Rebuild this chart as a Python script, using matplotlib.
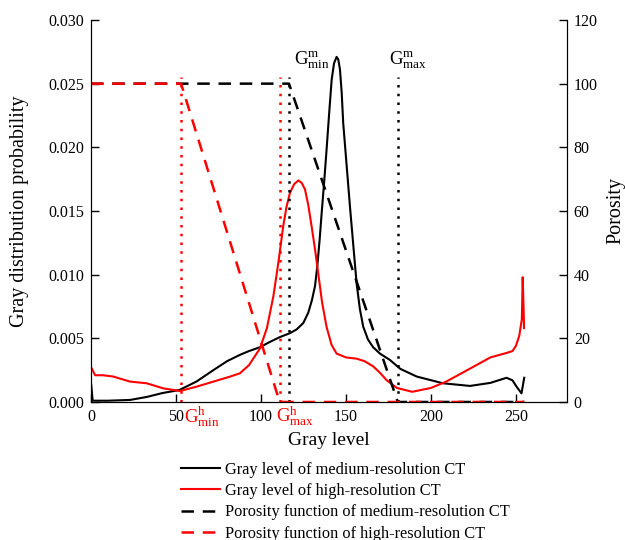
import matplotlib
matplotlib.use("Agg")
import matplotlib.pyplot as plt

plt.rcParams['font.family'] = ['Liberation Serif', 'DejaVu Serif']
plt.rcParams['mathtext.fontset'] = 'custom'
plt.rcParams['mathtext.rm'] = 'Liberation Serif'
plt.rcParams['mathtext.it'] = 'Liberation Serif:italic'

# ----------------------------------------------------------------
#  Data
# ----------------------------------------------------------------
# gray level histogram, medium-resolution CT
gray_med = [0, 1, 10, 23, 33, 42, 52, 62, 72, 80, 87.6, 93, 99.4, 105, 111.2, 117,
            121, 124.9, 127.8, 130, 131.8, 133.1, 134.5, 135.7, 137.2, 138.6, 140.2,
            141.6, 143, 144.5, 145.5, 146.5, 147.5, 148.4, 150.4, 152.4, 154.4, 156.3,
            158.2, 160.2, 163, 166, 170, 175.9, 182, 191.6, 207, 223, 235, 244.5, 248,
            250.4, 253.3, 254.9]
prob_med = [0.0015, 0.0001, 0.0001, 0.00016, 0.0004, 0.0007, 0.00094, 0.0016, 0.0025,
            0.0032, 0.0037, 0.004, 0.0043, 0.0047, 0.0051, 0.0054, 0.0057, 0.0062,
            0.007, 0.008, 0.0091, 0.0106, 0.0127, 0.0148, 0.0173, 0.0198, 0.0228, 0.0253,
            0.0266, 0.0271, 0.0269, 0.0261, 0.0243, 0.0219, 0.0186, 0.0153, 0.0122,
            0.0093, 0.0073, 0.0059, 0.0049, 0.0043, 0.0038, 0.0033, 0.0026, 0.002,
            0.00147, 0.00126, 0.0015, 0.0019, 0.0017, 0.0012, 0.00068, 0.0019]

# gray level histogram, high-resolution CT
gray_high = [0, 0.4, 2.4, 7, 13, 23, 32.7, 42.5, 52.4, 62, 72, 82, 87.6, 93, 99.4, 103.5,
             107.3, 110.3, 113.1, 115, 117, 119.5, 122, 124, 125.9, 127.8, 129.8, 131.8,
             133.7, 136, 138.6, 141.5, 144.5, 150, 156.3, 161, 166, 170, 174, 180, 189,
             200, 209, 220, 235, 244.5, 248, 250, 252, 253.5, 254, 254.5, 254.8]
prob_high = [0.0024, 0.00265, 0.0021, 0.0021, 0.002, 0.0016, 0.00147, 0.00107, 0.00086,
             0.0012, 0.0016, 0.002, 0.00225, 0.0029, 0.0042, 0.0058, 0.0083, 0.011,
             0.0138, 0.0153, 0.0164, 0.0171, 0.0174, 0.0172, 0.0167, 0.0155, 0.0138,
             0.012, 0.0101, 0.0078, 0.0059, 0.0045, 0.0038, 0.0035, 0.0034, 0.0032,
             0.0028, 0.0023, 0.0017, 0.0011, 0.0008, 0.0011, 0.0016, 0.0024, 0.0035,
             0.00385, 0.004, 0.0044, 0.0052, 0.0065, 0.0098, 0.0075, 0.0058]

# porosity functions (right axis)
por_med_x = [0, 116.5, 180.5, 255]
por_med_y = [100, 100, 0, 0]
por_high_x = [0, 53, 111, 255]
por_high_y = [100, 100, 0, 0]

# thresholds
g_min_m, g_max_m = 116.5, 180.5
g_min_h, g_max_h = 53, 111

legend_labels = ["Gray level of medium-resolution CT",
                 "Gray level of high-resolution CT",
                 "Porosity function of medium-resolution CT",
                 "Porosity function of high-resolution CT"]

# ----------------------------------------------------------------
#  Plot
# ----------------------------------------------------------------
fig = plt.figure(figsize=(6.25, 5.4), dpi=100)
ax = fig.add_axes([0.1456, 0.2556, 0.7614, 0.7074])
ax2 = ax.twinx()

ax.plot(gray_med, prob_med, color='black', lw=1.5, label=legend_labels[0])
ax.plot(gray_high, prob_high, color='red', lw=1.5, label=legend_labels[1])

ax2.plot(por_med_x, por_med_y, color='black', lw=1.8, ls=(0, (5, 3.5)), label=legend_labels[2])
ax2.plot(por_high_x, por_high_y, color='red', lw=1.8, ls=(0, (5, 3.5)), label=legend_labels[3])

# threshold markers
top = 0.0255
ax.plot([g_min_m, g_min_m], [0, top], color='black', lw=1.8, ls=(0, (1, 2.5)))
ax.plot([g_max_m, g_max_m], [0, top], color='black', lw=1.8, ls=(0, (1, 2.5)))
ax.plot([g_min_h, g_min_h], [0, top], color='red', lw=1.8, ls=(0, (1, 2.5)))
ax.plot([g_max_h, g_max_h], [0, top], color='red', lw=1.8, ls=(0, (1, 2.5)))

ax.text(g_min_m + 3, 0.0260, r'$\mathrm{G}^{\mathrm{m}}_{\mathrm{min}}$', fontsize=13.5, ha='left', va='bottom')
ax.text(g_max_m - 5, 0.0260, r'$\mathrm{G}^{\mathrm{m}}_{\mathrm{max}}$', fontsize=13.5, ha='left', va='bottom')
ax.text(g_min_h + 2, -0.0002, r'$\mathrm{G}^{\mathrm{h}}_{\mathrm{min}}$', fontsize=13.5, color='red', ha='left', va='top')
ax.text(g_max_h - 2, -0.0002, r'$\mathrm{G}^{\mathrm{h}}_{\mathrm{max}}$', fontsize=13.5, color='red', ha='left', va='top')

ax.set_xlim(0, 280)
ax.set_ylim(0, 0.030)
ax2.set_ylim(0, 120)
ax.set_xticks([0, 50, 100, 150, 200, 250])
ax.set_yticks([0, 0.005, 0.010, 0.015, 0.020, 0.025, 0.030])
ax.set_yticklabels(["0.000", "0.005", "0.010", "0.015", "0.020", "0.025", "0.030"])
ax2.set_yticks([0, 20, 40, 60, 80, 100, 120])

for a in (ax, ax2):
    a.spines['top'].set_visible(False)
    a.tick_params(direction='in', length=6, width=1, labelsize=11.5, pad=5)
ax.set_xlabel("Gray level", fontsize=14, labelpad=5)
ax.set_ylabel("Gray distribution probability", fontsize=14.5, labelpad=14)
ax2.set_ylabel("Porosity", fontsize=14.5, labelpad=6)

h1, l1 = ax.get_legend_handles_labels()
h2, l2 = ax2.get_legend_handles_labels()
fig.legend(h1 + h2, l1 + l2, loc='upper center', bbox_to_anchor=(0.552, 0.16),
           frameon=False, fontsize=11.8, handlelength=2.4, labelspacing=0.32,
           handletextpad=0.3, borderpad=0)

fig.savefig("out.png", dpi=100)
